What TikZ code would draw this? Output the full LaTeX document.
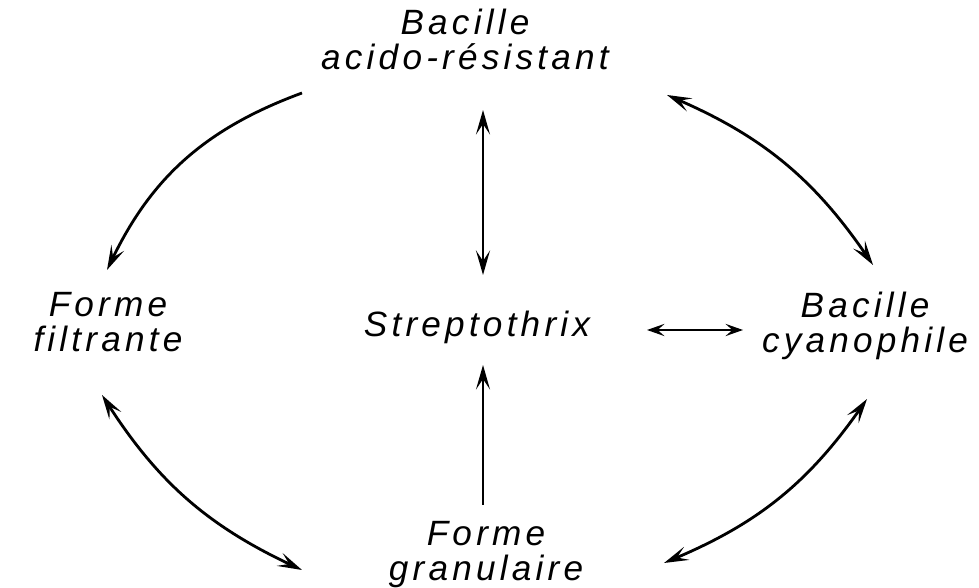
\documentclass[tikz,border=0pt]{standalone}
\usepackage{fontspec}
\setsansfont{Liberation Sans}[LetterSpace=12]
\usepackage{tikz}
\usetikzlibrary{arrows.meta, positioning}

\tikzset{
  label/.style={font=\sffamily\itshape\fontsize{20}{20}\selectfont, inner sep=1pt, anchor=base},
  conn/.style={line width=1.6pt, {Stealth[length=14pt,width=8pt,inset=6pt]}-{Stealth[length=14pt,width=8pt,inset=6pt]}},
  oneway/.style={line width=1.6pt, -{Stealth[length=14pt,width=8pt,inset=6pt]}}
}

\begin{document}
\begin{tikzpicture}
  \useasboundingbox (0,0) rectangle (19.58,11.76);
  % Names
  \node[label, align=center] (acido) at (9.30,10.36) {Bacille\\acido-résistant};
  \node[label, align=center] (filtr) at (2.16,4.72) {Forme\\filtrante};
  \node[label] (strep) at (9.54,5.02) {Streptothrix};
  \node[label, align=center] (cyano) at (17.30,4.70) {Bacille\\cyanophile};
  \node[label, align=center] (granu) at (9.72,0.14) {Forme\\granulaire};
  % Arrow ends
  \coordinate (tlA) at (6.04,9.90);
  \coordinate (tlB) at (2.14,6.36);
  \coordinate (trA) at (13.34,9.86);
  \coordinate (trB) at (17.46,6.46);
  \coordinate (blA) at (2.04,3.86);
  \coordinate (blB) at (6.04,0.36);
  \coordinate (brA) at (17.34,3.78);
  \coordinate (brB) at (13.28,0.50);
  \coordinate (vtA) at (9.66,9.56);
  \coordinate (vtB) at (9.66,6.26);
  \coordinate (vbA) at (9.66,1.66);
  \coordinate (vbB) at (9.66,4.46);
  \coordinate (hA) at (12.94,5.16);
  \coordinate (hB) at (14.86,5.16);
  % Arrows
  \draw[oneway] (tlA) to[bend right=22] (tlB);
  \draw[conn] (trA) to[bend left=16] (trB);
  \draw[conn] (blA) to[bend right=16] (blB);
  \draw[conn] (brA) to[bend left=16] (brB);
  \draw[conn, line width=1.3pt] (vtA) -- (vtB);
  \draw[oneway, line width=1.3pt] (vbA) -- (vbB);
  \draw[line width=1pt, {Stealth[length=10pt,width=7pt,inset=4pt]}-{Stealth[length=10pt,width=7pt,inset=4pt]}] (hA) -- (hB);
\end{tikzpicture}
\end{document}
